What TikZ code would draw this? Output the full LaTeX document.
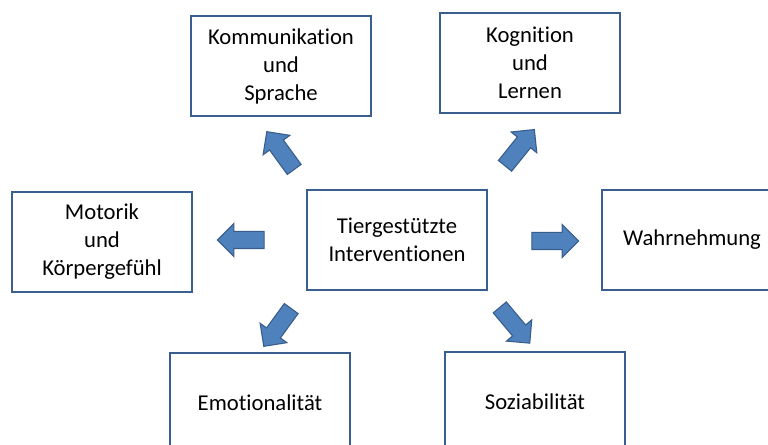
\documentclass[tikz,border=0pt]{standalone}
\usepackage{fontspec}
\setmainfont[Ligatures=NoCommon]{Carlito}
\usetikzlibrary{shapes.arrows}
\definecolor{boxline}{HTML}{3A5F8F}
\definecolor{arrowfill}{HTML}{4F81BD}
\definecolor{arrowline}{HTML}{385D8A}

\begin{document}
\begin{tikzpicture}[x=0.75pt, y=-0.75pt]
  \tikzset{
    area/.style={draw=boxline, line width=1.5pt, fill=white, align=center,
      minimum width=135pt, minimum height=75pt, inner sep=0pt,
      font=\fontsize{17}{21}\selectfont},
    blockarrow/.style={single arrow, draw=arrowline, fill=arrowfill, line width=0.8pt,
      minimum height=35pt, inner xsep=0pt, inner ysep=6pt, single arrow head extend=6pt}
  }
  \path[use as bounding box, fill=white] (0,0) rectangle (768,445);
  \clip (0,0) rectangle (768,445);
  % boxes
  \node[area](center) at (397,240) {Tiergestützte\\Interventionen};
  \node[area](komm) at (281,66) {Kommunikation\\und\\Sprache};
  \node[area](kogn) at (530,63) {Kognition\\und\\Lernen};
  \node[area](motorik) at (102,242) {Motorik\\und\\Körpergefühl};
  \node[area](wahrn) at (692,240) {Wahrnehmung};
  \node[area](emot) at (260,403) {Emotionalität};
  \node[area](sozi) at (535,402) {Soziabilität};
  % arrows
  \node[blockarrow, rotate=180](a-motorik) at (245,240) {};
  \node[blockarrow](a-wahrn) at (551,241) {};
  \node[blockarrow, rotate=126](a-komm) at (283,154) {};
  \node[blockarrow, rotate=51](a-kogn) at (517,151) {};
  \node[blockarrow, rotate=-126](a-emot) at (280,324) {};
  \node[blockarrow, rotate=-50](a-sozi) at (512,322) {};
\end{tikzpicture}
\end{document}
